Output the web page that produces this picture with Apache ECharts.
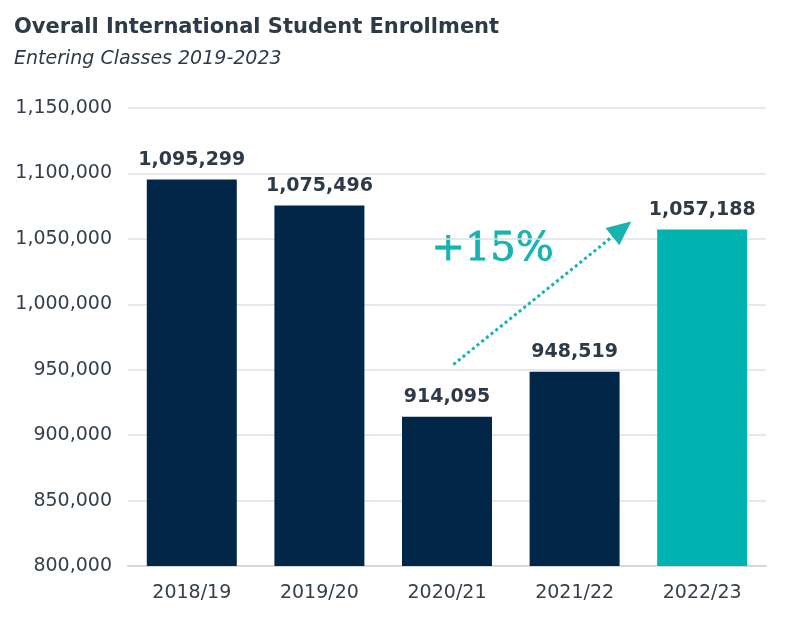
<!DOCTYPE html>
<html>
<head>
<meta charset="utf-8">
<script src="https://cdn.jsdelivr.net/npm/echarts@6/dist/echarts.min.js"></script>
<style>
  html, body { margin: 0; padding: 0; background: #fff; }
  #chart { width: 808px; height: 634px; }
</style>
</head>
<body>
<div id="chart"></div>
<script>
var years = ['2018/19', '2019/20', '2020/21', '2021/22', '2022/23'];
var enrollment = [1095299, 1075496, 914095, 948519, 1057188];
var barColors = ['#022648', '#022648', '#022648', '#022648', '#00b2b0'];
var growthText = '+15%';

var teal = '#16b3b0';
var textColor = '#333f4b';

function fmt(v) {
  return v.toLocaleString('en-US');
}

var chart = echarts.init(document.getElementById('chart'));

var barData = [];
for (var i = 0; i < enrollment.length; i++) {
  barData.push({ value: enrollment[i], itemStyle: { color: barColors[i] } });
}

var option = {
  animation: false,
  title: [{
    text: 'Overall International Student Enrollment',
    left: 9,
    top: 12,
    textStyle: { fontFamily: 'DejaVu Sans', fontWeight: 'bold', fontSize: 21, color: '#2d3a48' }
  }, {
    text: 'Entering Classes 2019-2023',
    left: 9,
    top: 45,
    textStyle: { fontFamily: 'DejaVu Sans', fontStyle: 'italic', fontWeight: 'normal', fontSize: 19, color: '#2d3a48' }
  }],
  grid: { left: 128, right: 42, top: 108, bottom: 68 },
  xAxis: [{
    type: 'category',
    data: years,
    axisTick: { show: false },
    axisLine: { lineStyle: { color: '#d3d8de', width: 2 } },
    axisLabel: { margin: 18, fontFamily: 'DejaVu Sans', fontSize: 19, color: textColor }
  }, {
    // hidden helper axis, used to place the growth arrow between categories
    type: 'value',
    min: -0.5,
    max: 4.5,
    show: false
  }],
  yAxis: {
    type: 'value',
    min: 800000,
    max: 1150000,
    interval: 50000,
    axisLine: { show: false },
    axisTick: { show: false },
    splitLine: { lineStyle: { color: '#dde1e6', width: 1.5 } },
    axisLabel: {
      margin: 16,
      fontFamily: 'DejaVu Sans',
      fontSize: 19,
      color: textColor,
      formatter: function (v) { return fmt(v); }
    }
  },
  series: [{
    type: 'bar',
    data: barData,
    barWidth: 90,
    label: {
      show: true,
      position: 'top',
      distance: 10,
      fontFamily: 'DejaVu Sans',
      fontWeight: 'bold',
      fontSize: 19,
      color: '#2d3a48',
      formatter: function (p) { return fmt(p.value); }
    }
  }, {
    type: 'line',
    xAxisIndex: 1,
    data: [],
    markLine: {
      silent: true,
      symbol: ['none', 'triangle'],
      symbolSize: [22, 24],
      label: { show: false },
      lineStyle: { color: teal, type: 'dotted', width: 3 },
      data: [[{ coord: [2.05, 954000] }, { coord: [3.37, 1057500] }]]
    }
  }],
  graphic: [{
    type: 'text',
    left: 431,
    top: 229,
    style: {
      text: growthText,
      fontFamily: 'DejaVu Serif',
      fontSize: 40,
      fill: teal,
      stroke: teal,
      lineWidth: 0.8
    }
  }]
};

chart.setOption(option);
</script>
</body>
</html>
